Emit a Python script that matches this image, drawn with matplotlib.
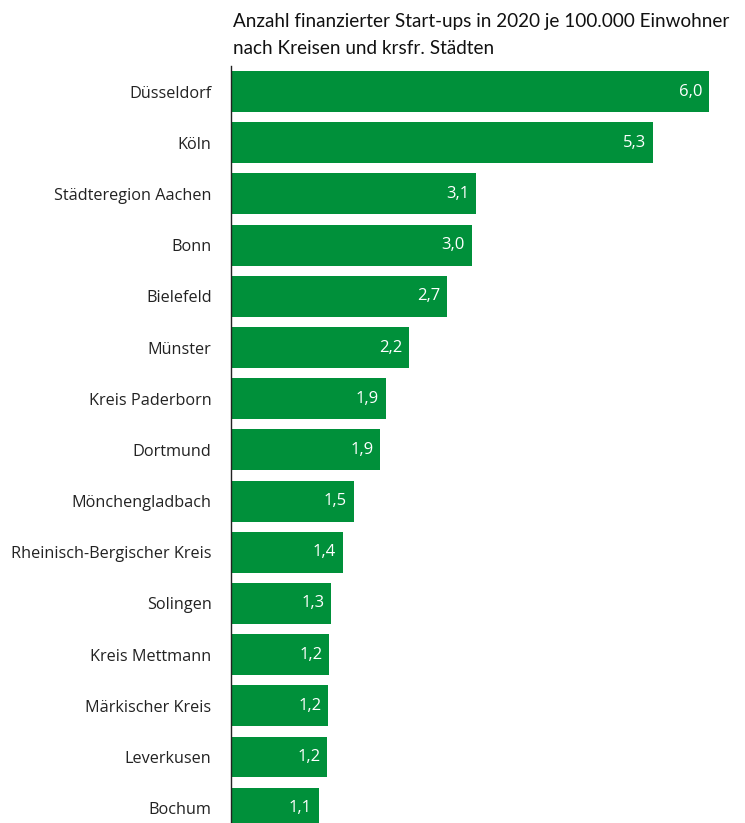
import matplotlib
matplotlib.use("Agg")
import matplotlib.pyplot as plt

regions = ["Düsseldorf", "Köln", "Städteregion Aachen", "Bonn", "Bielefeld",
           "Münster", "Kreis Paderborn", "Dortmund", "Mönchengladbach",
           "Rheinisch-Bergischer Kreis", "Solingen", "Kreis Mettmann",
           "Märkischer Kreis", "Leverkusen", "Bochum"]
startups = [6.0, 5.3, 3.07, 3.02, 2.71, 2.23, 1.94, 1.87, 1.54, 1.40,
            1.26, 1.23, 1.22, 1.21, 1.10]

green = "#00903a"

fig = plt.figure(figsize=(7.45, 8.23), dpi=100)
W, H = 745, 823
ax = fig.add_axes([231 / W, 0, (W - 231) / W, (H - 66) / H])

pos = list(range(len(regions)))
ax.barh(pos, startups, height=0.8, color=green)
ax.set_xlim(0, 514 / 79.7)
ax.set_ylim(14.29, -0.5)

for i, v in enumerate(startups):
    ax.text(v - 0.085, i, f"{v:.1f}".replace(".", ","), ha="right", va="center",
            color="white", fontsize=12, family="Open Sans")

ax.set_yticks(pos)
ax.set_yticklabels(regions, fontsize=11.7, family="Open Sans", color="#222222")
ax.tick_params(axis="y", length=0, pad=14)
ax.set_xticks([])
for s in ["top", "right", "bottom"]:
    ax.spines[s].set_visible(False)
ax.spines["left"].set_color("#222222")
ax.spines["left"].set_linewidth(1)

fig.text(233 / W, 1 - 22 / H, "Anzahl finanzierter Start-ups in 2020 je 100.000 Einwohner",
         ha="left", va="center", fontsize=13.6, family="Lato", color="#111111")
fig.text(233 / W, 1 - 48 / H, "nach Kreisen und krsfr. Städten",
         ha="left", va="center", fontsize=13.6, family="Lato", color="#111111")

fig.savefig("out.png", dpi=100, facecolor="white")
